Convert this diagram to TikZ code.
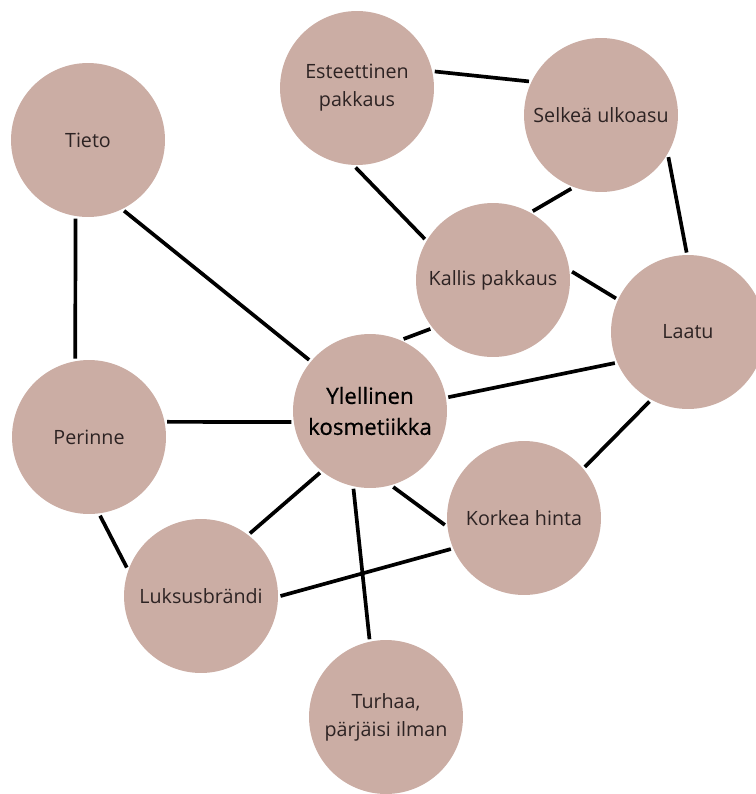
\documentclass[tikz,border=0pt]{standalone}
\usepackage{fontspec}
\setmainfont{Open Sans}
\usepackage{xcolor}
\definecolor{rose}{RGB}{203,173,164}
\definecolor{ink}{RGB}{45,35,35}

\begin{document}
\begin{tikzpicture}[
      x=0.02cm, y=-0.02cm,
      idea/.style={circle, fill=rose, minimum size=3.08cm, inner sep=0pt, outer sep=0.05cm, align=center, text=ink, font=\fontsize{11.2}{16}\selectfont},
      core/.style={idea, text=black, font=\fontsize{12.7}{17.6}\selectfont\addfontfeature{FakeBold=0.6}},
      link/.style={line width=2.1pt}
    ]
    \useasboundingbox (0,0) rectangle (755,794);
    \node[idea] (tieto) at (88,140) {Tieto};
    \node[idea] (esteettinen) at (357,88) {Esteettinen\\pakkaus};
    \node[idea] (selkea) at (601,115) {Selkeä ulkoasu};
    \node[idea] (kallis) at (493,280) {Kallis pakkaus};
    \node[idea] (laatu) at (688,332) {Laatu};
    \node[core] (ylellinen) at (370,411) {Ylellinen\\kosmetiikka};
    \node[idea] (perinne) at (89,437) {Perinne};
    \node[idea] (korkea) at (524,518) {Korkea hinta};
    \node[idea] (luksus) at (201,596) {Luksusbrändi};
    \node[idea] (turhaa) at (386,717) {Turhaa,\\pärjäisi ilman};

    \draw[link] (tieto.261) -- (perinne.100);
    \draw[link] (tieto.297) -- (ylellinen.140);
    \draw[link] (perinne.11) -- (ylellinen.188);
    \draw[link] (perinne.278) -- (luksus.159);
    \draw[link] (ylellinen.231) -- (luksus.52);
    \draw[link] (ylellinen.258) -- (turhaa.102);
    \draw[link] (ylellinen.287) -- (korkea.185);
    \draw[link] (luksus.0) -- (korkea.203);
    \draw[link] (ylellinen.10) -- (laatu.203);
    \draw[link] (kallis.218) -- (ylellinen.65);
    \draw[link] (kallis.6) -- (laatu.155);
    \draw[link] (esteettinen.269) -- (kallis.149);
    \draw[link] (esteettinen.12) -- (selkea.155);
    \draw[link] (selkea.248) -- (kallis.60);
    \draw[link] (selkea.328) -- (laatu.91);
    \draw[link] (laatu.241) -- (korkea.40);
\end{tikzpicture}
\end{document}
